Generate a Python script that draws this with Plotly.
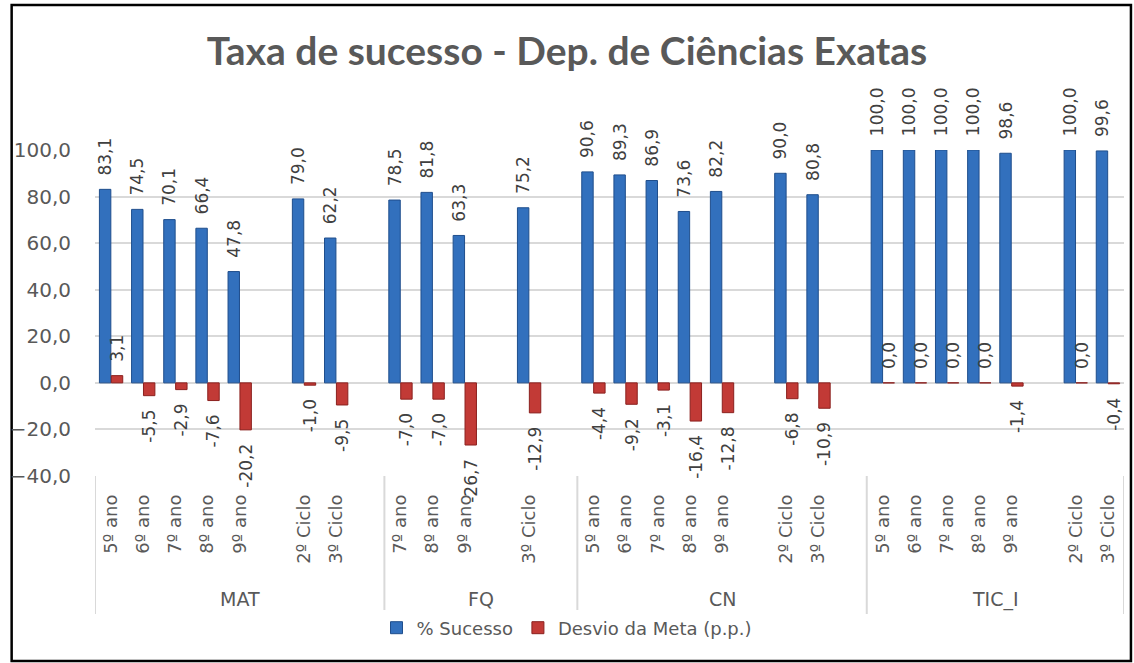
import plotly.graph_objects as go

# subjects and the year / cycle rows under each one ("" = empty spacer row)
groups = ["MAT", "FQ", "CN", "TIC_I"]
labels_mat = ["5º ano", "6º ano", "7º ano", "8º ano", "9º ano", "", "2º Ciclo", "3º Ciclo", ""]
labels_fq = ["7º ano", "8º ano", "9º ano", "", "3º Ciclo", ""]
labels_cn = ["5º ano", "6º ano", "7º ano", "8º ano", "9º ano", "", "2º Ciclo", "3º Ciclo", ""]
labels_tic = ["5º ano", "6º ano", "7º ano", "8º ano", "9º ano", "", "2º Ciclo", "3º Ciclo"]

# % Sucesso
sucesso_mat = [83.1, 74.5, 70.1, 66.4, 47.8, None, 79.0, 62.2, None]
sucesso_fq = [78.5, 81.8, 63.3, None, 75.2, None]
sucesso_cn = [90.6, 89.3, 86.9, 73.6, 82.2, None, 90.0, 80.8, None]
sucesso_tic = [100.0, 100.0, 100.0, 100.0, 98.6, None, 100.0, 99.6]

# Desvio da Meta (p.p.)
desvio_mat = [3.1, -5.5, -2.9, -7.6, -20.2, None, -1.0, -9.5, None]
desvio_fq = [-7.0, -7.0, -26.7, None, -12.9, None]
desvio_cn = [-4.4, -9.2, -3.1, -16.4, -12.8, None, -6.8, -10.9, None]
desvio_tic = [0.0, 0.0, 0.0, 0.0, -1.4, None, 0.0, -0.4]

all_labels = [labels_mat, labels_fq, labels_cn, labels_tic]
tick_text = labels_mat + labels_fq + labels_cn + labels_tic
sucesso = sucesso_mat + sucesso_fq + sucesso_cn + sucesso_tic
desvio = desvio_mat + desvio_fq + desvio_cn + desvio_tic
xs = list(range(len(tick_text)))

# layout geometry (px)
W, H = 1134, 663
M_L, M_R, M_T, M_B = 87, 10, 150, 187
PLOT_H = H - M_T - M_B


def py(px_from_top):
    # pixel row -> paper y
    return (H - M_B - px_from_top) / PLOT_H


def px_(px_from_left):
    return (px_from_left - M_L) / (W - M_L - M_R)


NBSP = "\u00a0\u00a0"


def label(v):
    if v is None:
        return ""
    s = f"{v:.1f}".replace(".", ",")
    return NBSP + s if v >= 0 else s + NBSP


fig = go.Figure()
fig.add_trace(go.Bar(
    x=xs, y=sucesso, name="% Sucesso",
    marker=dict(color="#3270BD", line=dict(color="#1F4E8C", width=1)),
    text=[label(v) for v in sucesso], textposition="outside", textangle=-90,
    constraintext="none", cliponaxis=False,
    textfont=dict(family="DejaVu Sans", size=17, color="#404040"),
))
fig.add_trace(go.Bar(
    x=xs, y=desvio, name="Desvio da Meta (p.p.)",
    marker=dict(color="#C23A36", line=dict(color="#8B201E", width=1)),
    text=[label(v) for v in desvio], textposition="outside", textangle=-90,
    constraintext="none", cliponaxis=False,
    textfont=dict(family="DejaVu Sans", size=17, color="#404040"),
))

# group dividers and group names under the category labels
shapes = []
annotations = []
start = 0
for g, labs in zip(groups, all_labels):
    end = start + len(labs)
    shapes.append(dict(type="line", xref="x", yref="paper", x0=start - 0.5, x1=start - 0.5,
                       y0=0, y1=py(614), line=dict(color="#D9D9D9", width=2)))
    annotations.append(dict(text=g, x=(start + end - 1) / 2, xref="x", y=py(599), yref="paper",
                            showarrow=False, yanchor="middle",
                            font=dict(family="DejaVu Sans", size=19, color="#595959")))
    start = end
shapes.append(dict(type="line", xref="x", yref="paper", x0=start - 0.5, x1=start - 0.5,
                   y0=0, y1=py(614), line=dict(color="#D9D9D9", width=2)))

# chart border
shapes.append(dict(type="rect", xref="paper", yref="paper",
                   x0=px_(3), x1=px_(1131), y0=py(661), y1=py(5),
                   line=dict(color="black", width=2.5), fillcolor="rgba(0,0,0,0)", layer="below"))

fig.update_layout(
    width=W, height=H,
    margin=dict(l=M_L, r=M_R, t=M_T, b=M_B),
    paper_bgcolor="white", plot_bgcolor="white",
    separators=",.",
    barmode="group", bargap=0.26, bargroupgap=0.04,
    title=dict(text="<b>Taxa de sucesso - Dep. de Ciências Exatas</b>",
               x=0.5, xanchor="center", y=1 - 51 / H, yanchor="middle",
               font=dict(family="Lato", size=39, color="#595959")),
    font=dict(family="DejaVu Sans", color="#595959"),
    legend=dict(orientation="h", xref="container", yref="container", x=0.5, xanchor="center",
                y=1 - 628 / H, yanchor="middle", font=dict(size=18, color="#595959"),
                itemwidth=30),
    shapes=shapes,
    annotations=annotations,
)
fig.update_yaxes(range=[-40, 100], dtick=20, tickformat=".1f", showgrid=True,
                 gridcolor="#D9D9D9", gridwidth=1.5, zeroline=False, showline=False,
                 ticklabelstandoff=23, tickfont=dict(size=20, color="#595959"))
fig.update_xaxes(range=[-0.5, len(xs) - 0.5], tickmode="array", tickvals=xs, ticktext=tick_text,
                 tickangle=-90, showgrid=False, zeroline=False, showline=False,
                 ticklabelstandoff=14, tickfont=dict(size=18, color="#595959"))

# the page body has a default 8px margin; drop it so the figure fills the window
fig.write_html("out.html", config={"displayModeBar": False},
               post_script="document.body.style.margin='0';")
